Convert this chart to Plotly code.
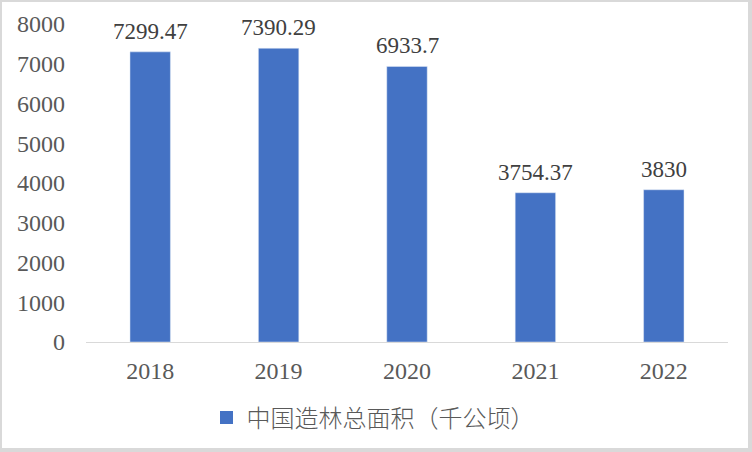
import plotly.graph_objects as go

years = ["2018", "2019", "2020", "2021", "2022"]
values = [7299.47, 7390.29, 6933.7, 3754.37, 3830]
labels = ["7299.47", "7390.29", "6933.7", "3754.37", "3830"]
series_name = "中国造林总面积（千公顷）"
y_ticks = [0, 1000, 2000, 3000, 4000, 5000, 6000, 7000, 8000]

L, R, T, B = 86, 24, 24, 110
W, H = 752, 452
PW, PH = W - L - R, H - T - B
BLUE = "#4472C4"
SERIF = "Liberation Serif, Times New Roman, serif"

fig = go.Figure()
fig.add_trace(go.Bar(
    x=years, y=values, name=series_name,
    marker_color=BLUE, showlegend=False,
))
fig.add_trace(go.Scatter(
    x=[years[0]], y=[None], mode="markers", name=series_name,
    marker=dict(symbol="square", size=13, color=BLUE), hoverinfo="skip",
))
for i, (v, s) in enumerate(zip(values, labels)):
    fig.add_annotation(x=i, y=v, text=s, showarrow=False, yanchor="bottom",
                       yshift=6,
                       font=dict(family=SERIF, size=23, color="#404040"))

fig.update_layout(
    width=W, height=H,
    margin=dict(l=L, r=R, t=T, b=B, autoexpand=False),
    paper_bgcolor="white", plot_bgcolor="white",
    bargap=0.685,
    showlegend=True,
    legend=dict(orientation="h", x=(373 - L) / PW, xanchor="center",
                y=-(418 - 342) / PH, yanchor="middle", itemwidth=30,
                font=dict(family="Noto Sans CJK SC", size=24, color="#595959", weight=300)),
    xaxis=dict(type="category", showline=True, linecolor="#D9D9D9", linewidth=1,
               ticks="", ticklabelstandoff=7, automargin=False,
               tickfont=dict(family=SERIF, size=24, color="#595959")),
    yaxis=dict(range=[0, 8000], tickvals=y_ticks, showgrid=False, zeroline=False,
               showline=False, ticks="", ticklabelstandoff=20, automargin=False,
               tickfont=dict(family=SERIF, size=24, color="#595959")),
)
fig.add_shape(type="rect", xref="x domain", yref="y domain",
              x0=(0 - L) / PW, x1=(750 - L) / PW,
              y0=-(450 - (H - B)) / PH, y1=1 + T / PH,
              line=dict(color="#D9D9D9", width=4))
fig.write_html("out.html", config={"displayModeBar": False},
               post_script="document.body.style.margin='0';")
